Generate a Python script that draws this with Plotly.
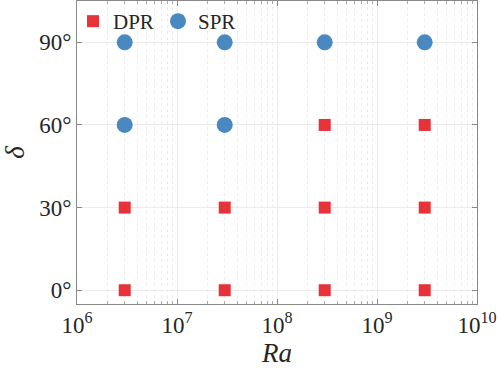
import plotly.graph_objects as go

# Ra values and angle delta (degrees) for each regime
dpr_ra = [3e6, 3e7, 3e8, 3e9, 3e6, 3e7, 3e8, 3e9, 3e8, 3e9]
dpr_delta = [0, 0, 0, 0, 30, 30, 30, 30, 60, 60]
spr_ra = [3e6, 3e7, 3e6, 3e7, 3e8, 3e9]
spr_delta = [60, 60, 90, 90, 90, 90]

x_ticks = [1e6, 1e7, 1e8, 1e9, 1e10]
x_labels = ["10<sup>6</sup>", "10<sup>7</sup>", "10<sup>8</sup>", "10<sup>9</sup>", "10<sup>10</sup>"]
x_minor = [m * 10 ** e for e in range(6, 10) for m in range(2, 10)]
y_ticks = [0, 30, 60, 90]
y_labels = ["0°", "30°", "60°", "90°"]

red = "#E8323A"
blue = "#4A88C0"
serif = "Liberation Serif"

fig = go.Figure()
fig.add_trace(go.Scatter(x=dpr_ra, y=dpr_delta, mode="markers", name="DPR",
                         marker=dict(symbol="square", size=12, color=red)))
fig.add_trace(go.Scatter(x=spr_ra, y=spr_delta, mode="markers", name="SPR",
                         marker=dict(symbol="circle", size=16, color=blue)))

fig.update_layout(
    width=498, height=369,
    margin=dict(l=77, r=21, t=1, b=65),
    plot_bgcolor="white", paper_bgcolor="white",
    font=dict(family=serif, size=23, color="#262626"),
    showlegend=True,
    legend=dict(orientation="h", x=-0.01, y=1.0, xanchor="left", yanchor="top",
                bgcolor="rgba(0,0,0,0)", font=dict(size=21),
                itemwidth=30, entrywidth=40, entrywidthmode="pixels", tracegroupgap=0),
)
fig.update_xaxes(
    type="log", range=[6, 10],
    tickvals=x_ticks, ticktext=x_labels,
    showline=True, linecolor="#888888", linewidth=1, mirror="ticks",
    ticks="inside", ticklen=5, tickcolor="#888888",
    showgrid=True, gridcolor="#ebebeb",
    minor=dict(tickmode="array", tickvals=x_minor, ticks="inside", ticklen=3,
               tickcolor="#aaaaaa", showgrid=True, gridcolor="#ececec", griddash="dot"),
    zeroline=False,
    title=dict(text="<i>Ra</i>", font=dict(size=27), standoff=2),
)
fig.update_yaxes(
    range=[-5, 105],
    tickvals=y_ticks, ticktext=y_labels,
    showline=True, linecolor="#888888", linewidth=1, mirror="ticks",
    ticks="inside", ticklen=5, tickcolor="#888888",
    showgrid=True, gridcolor="#ebebeb",
    zeroline=False,
    title=dict(text="<i>δ</i>", font=dict(size=27), standoff=6),
)

# drop the page's default body margin so the figure sits at the window corner
fig.write_html("out.html", config={"displayModeBar": False},
               post_script="document.body.style.margin='0';")
